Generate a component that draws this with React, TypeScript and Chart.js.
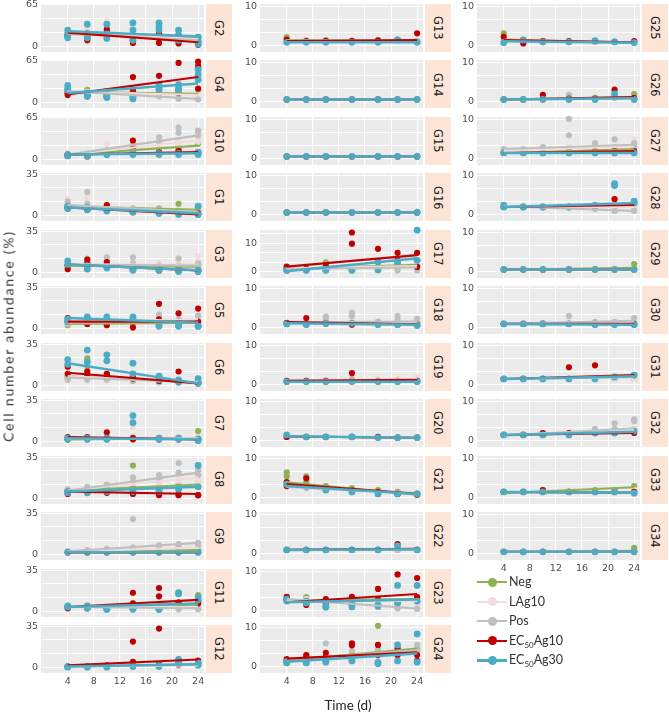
import React, { useEffect, useRef } from 'react';
import { Chart, registerables } from 'chart.js';
Chart.register(...registerables);

// ---------------- DATA ----------------
const days = [4, 7, 10, 14, 18, 21, 24];
const xTickValues = [4, 8, 12, 16, 20, 24];

const col1Panels = ['G2', 'G4', 'G10', 'G1', 'G3', 'G5', 'G6', 'G7', 'G8', 'G9', 'G11', 'G12'];
const col2Panels = ['G13', 'G14', 'G15', 'G16', 'G17', 'G18', 'G19', 'G20', 'G21', 'G22', 'G23', 'G24'];
const col3Panels = ['G25', 'G26', 'G27', 'G28', 'G29', 'G30', 'G31', 'G32', 'G33', 'G34'];

// top tick label of each panel's y axis
const col1TopLabel = [65, 65, 65, 35, 35, 35, 35, 35, 35, 35, 35, 35];
const col2TopLabel = [10, 10, 10, 10, 10, 10, 10, 10, 10, 10, 10, 10];
const col3TopLabel = [10, 10, 10, 10, 10, 10, 10, 10, 10, 10];
// data maximum of panels whose range extends beyond the top label
const extendedMax: Record<string, number> = { G17: 13.8 };

const seriesNames = ['Neg', 'LAg10', 'Pos', 'EC50Ag10', 'EC50Ag30'];
const seriesColors = ['#8DB255', '#F2DCDB', '#BFBFBF', '#C00000', '#4BACC6'];

type Tbl = Record<string, (number | null)[][]>;
type Fit = Record<string, number[]>;

const negPts: Tbl = {
  G2: [[18, 20, 22, 18, 20, 16, 12]],
  G4: [[18, 20, 16, 15, 14, 13, 20]],
  G10: [[8, 8, 10, 12, 15, 18, 45], [6, 6, 8, 10, 12, 15, 25]],
  G1: [[8, 8, 7, 6, 6, 10, 8], [6, 5, 5, 5, 4, 4, 5]],
  G3: [[6, 6, 6, 5, 5, 5, 6]],
  G5: [[3, 4, 4, 3, 3, 4, 3]],
  G6: [[8, 23, 10, 6, 5, 4, 3], [6, 16, 6, 4, 3, 3, 2]],
  G7: [[3, 3, 3, 3, 3, 3, 9], [2, 2, 2, 2, 2, 2, 3]],
  G8: [[7, 8, 8, 28, 12, 12, 14], [5, 6, 6, 10, 9, 10, 10]],
  G9: [[2, 2, 3, 3, 3, 3, 4]],
  G11: [[4, 4, 4, 4, 5, 6, 14], [3, 3, 3, 3, 4, 4, 8]],
  G12: [[1, 1, 1, 1, 2, 2, 3]],
  G13: [[2.2, 1.2, 1.4, 1.2, 1.3, 1.4, 1.2]],
  G14: [[0.6, 0.6, 0.6, 0.6, 0.6, 0.6, 0.6]],
  G15: [[0.6, 0.6, 0.6, 0.6, 0.6, 0.6, 0.6]],
  G16: [[0.6, 0.6, 0.6, 0.6, 0.6, 0.6, 0.6]],
  G17: [[1.5, 0.8, 3.3, 1.5, 2, 2.2, 2.4], [0.8, 0.6, 1, 1, 1.5, 1.8, 2]],
  G18: [[1.2, 1, 1, 1, 1.5, 1, 1]],
  G19: [[1, 1, 1, 1, 1, 1, 1]],
  G20: [[1, 1, 1, 1, 1, 0.8, 0.8]],
  G21: [[6.5, 5.5, 3, 2.5, 2, 1.5, 1], [5.5, 4, 2, 2, 1.5, 1, 0.8]],
  G22: [[1, 1, 1, 1, 1, 1, 1]],
  G23: [[3.5, 3.5, 2, 2.5, 2, 2, 2]],
  G24: [[1.5, 2, 2, 3, 10.5, 4, 4.5], [1.5, 1.5, 1.5, 2.5, 4, 3, 4]],
  G25: [[3.2, 1.5, 1.3, 1, 1, 1, 1]],
  G26: [[0.6, 0.6, 0.8, 1, 1, 1.2, 2]],
  G27: [[1.5, 1.5, 2, 2, 2, 2.5, 3]],
  G28: [[2, 2, 2, 2, 2, 2, 2]],
  G29: [[0.6, 0.6, 0.6, 0.6, 0.6, 0.6, 2]],
  G30: [[1, 1, 1, 1, 1, 1, 1]],
  G31: [[1.5, 1.5, 1.5, 1.5, 1.5, 1.5, 1.5]],
  G32: [[1.5, 1.5, 1.5, 1.5, 2, 2, 3]],
  G33: [[1.5, 1.5, 1.5, 1.5, 2, 2, 3]],
  G34: [[0.5, 0.5, 0.5, 0.5, 0.5, 0.5, 1.5]],
};

const lag10Pts: Tbl = {
  G2: [[22, 28, 40, 20, 28, 22, 15], [16, 18, 22, 14, 15, 10, 8]],
  G4: [[16, 17, 17, 18, 16, 14, 12]],
  G10: [[10, 8, 25, 20, 25, 28, 35], [8, 6, 12, 14, 18, 22, 28]],
  G1: [[14, 16, 8, 6, 5, 5, 4], [10, 12, 6, 5, 4, 4, 3]],
  G3: [[8, 10, 10, 8, 8, 12, 14], [6, 6, 6, 5, 6, 8, 10]],
  G5: [[7, 8, 6, 8, 10, 12, 12], [5, 6, 5, 6, 7, 8, 9]],
  G6: [[10, 8, 8, 6, 5, 4, 3]],
  G7: [[4, 4, 5, 12, 4, 4, 4]],
  G8: [[8, 9, 10, 15, 16, 20, 18], [6, 7, 8, 12, 12, 14, 14]],
  G9: [[3, 3, 4, 6, 6, 6, 7]],
  G11: [[4, 4, 5, 4, 4, 4, 4]],
  G12: [[1, 1, 1, 1, 2, 2, 2]],
  G13: [[1.5, 1.2, 1.2, 1.2, 1.2, 1.2, 1.2]],
  G14: [[0.6, 0.6, 0.6, 0.6, 0.6, 0.6, 0.6]],
  G15: [[0.6, 0.6, 0.6, 0.6, 0.6, 0.6, 0.6]],
  G16: [[0.6, 0.6, 0.6, 0.6, 0.6, 0.6, 0.6]],
  G17: [[1.5, 1, 1.5, 1.5, 2, 2, 2.5]],
  G18: [[1.2, 1.2, 1.5, 2, 1.5, 1.5, 1.8]],
  G19: [[1, 1, 1.2, 1.5, 1.5, 1.5, 2]],
  G20: [[1, 1, 1, 1, 1, 0.8, 0.8]],
  G21: [[3, 3, 2.5, 2, 1.5, 1.2, 1]],
  G22: [[1, 1, 1, 1, 1, 1, 1]],
  G23: [[3, 3, 2, 2.5, 2, 2, 2]],
  G24: [[1.5, 2.5, 2, 3, 3, 3, 4]],
  G25: [[2, 1.5, 1.2, 1, 1, 1, 1]],
  G26: [[0.6, 0.6, 0.8, 1.5, 0.8, 1, 1]],
  G27: [[2, 2, 2.5, 3, 3, 5, 5], [1.5, 1.5, 2, 2.5, 2.5, 3, 4]],
  G28: [[2, 2, 2, 2, 2, 2, 2]],
  G29: [[0.6, 0.6, 0.6, 0.6, 0.6, 0.6, 0.6]],
  G30: [[1, 1, 1.2, 1.5, 1.2, 1.5, 2]],
  G31: [[1.5, 1.5, 1.5, 1.5, 1.5, 1.5, 1.5]],
  G32: [[1.5, 1.5, 1.5, 2, 2, 3, 3]],
  G33: [[1.5, 1.5, 1.5, 1.5, 1.5, 1.5, 2]],
  G34: [[0.5, 0.5, 0.5, 0.5, 0.5, 0.5, 0.5]],
};

const posPts: Tbl = {
  G2: [[20, 22, 25, 18, 20, 14, 10], [15, 15, 15, 12, 12, 8, 5]],
  G4: [[14, 13, 12, 12, 10, 6, 5]],
  G10: [[8, 10, 15, 25, 35, 50, 45], [6, 8, 12, 20, 28, 42, 38]],
  G1: [[12, 20, 8, 6, 5, 4, 4], [8, 10, 6, 4, 4, 3, 2]],
  G3: [[7, 12, 13, 13, 6, 12, 8], [5, 8, 8, 8, 4, 6, 5]],
  G5: [[6, 5, 5, 6, 12, 8, 11], [4, 4, 4, 4, 6, 5, 6]],
  G6: [[8, 6, 7, 6, 5, 4, 3], [5, 5, 5, 4, 3, 3, 2]],
  G7: [[3, 3, 3, 4, 3, 3, 3]],
  G8: [[8, 10, 12, 18, 20, 30, 24], [6, 8, 8, 14, 16, 22, 20]],
  G9: [[3, 4, 5, 30, 8, 9, 10], [2, 3, 3, 6, 6, 7, 8]],
  G11: [[4, 4, 4, 4, 3, 3, 3], [3, 3, 3, 2, 2, 2, 2]],
  G12: [[1, 1, 1, 2, 2, 2, 3]],
  G13: [[1.2, 1.4, 1.2, 1.2, 1.4, 1.6, 1.2]],
  G14: [[0.6, 0.6, 0.6, 0.6, 0.6, 0.6, 0.6]],
  G15: [[0.6, 0.6, 0.6, 0.6, 0.6, 0.6, 0.6]],
  G16: [[0.6, 0.6, 0.6, 0.6, 0.6, 0.6, 0.6]],
  G17: [[1.5, 0.8, 2.5, 1.5, 1.5, 0.4, 0.4], [1, 0.6, 1, 1, 1, 1.2, 1.8]],
  G18: [[1.2, 1.2, 2.9, 3.8, 1.5, 3, 2.3], [1, 1, 2, 3, 1, 2, 1.5]],
  G19: [[1, 1, 1, 1.5, 1, 1, 1]],
  G20: [[1, 1, 1, 1, 1, 0.8, 0.8]],
  G21: [[3, 2.5, 2, 2, 1.5, 1.2, 1.2]],
  G22: [[1, 1, 1, 1, 1, 1, 1]],
  G23: [[3, 2, 2, 2, 1.5, 0.8, 0.5], [2.5, 2.5, 1.5, 1.5, 1, 0.6, 0.5]],
  G24: [[1.5, 3, 6, 4, 4.5, 4, 5.6], [1.5, 2.5, 2, 3.5, 3, 3, 4]],
  G25: [[1.5, 1.2, 1.2, 1, 1.2, 1, 1]],
  G26: [[0.6, 0.6, 0.8, 1.8, 0.5, 1, 1]],
  G27: [[2.5, 2.5, 3, 10.2, 4, 5, 4], [2, 2, 2.5, 6, 3, 3, 3]],
  G28: [[2.5, 2, 2, 2, 1.5, 1, 1]],
  G29: [[0.6, 0.6, 0.6, 0.6, 0.6, 0.6, 0.6]],
  G30: [[1, 1, 1.2, 3, 1.5, 1.5, 2.5]],
  G31: [[1.5, 1.5, 1.5, 1.5, 1.5, 2, 2.5]],
  G32: [[1.5, 1.5, 2, 2, 3, 4.5, 5.5], [1.5, 1.5, 1.5, 2, 2.5, 3, 5]],
  G33: [[1.5, 1.5, 2, 1.5, 1.5, 1.5, 1.5]],
  G34: [[0.5, 0.5, 0.5, 0.5, 0.5, 0.5, 0.5]],
};

const ec10Pts: Tbl = {
  G2: [[20, 10, 27, 6, 6, 5, 15], [18, 14, 22, 10, 14, 18, 8], [16, 20, 18, 16, 20, 12, 3]],
  G4: [[14, 12, 14, 40, 42, 62, 64], [12, 10, 10, 20, 22, 15, 57], [16, 15, 12, 18, 20, 20, 22]],
  G10: [[8, 6, 10, 30, 12, 14, 12], [6, 5, 8, 18, 10, 10, 10]],
  G1: [[8, 6, 9, 4, 3, 3, 2], [6, 5, 6, 3, 2, 2, 1]],
  G3: [[3, 11, 9, 5, 2, 2, 1], [6, 8, 6, 3, 3, 3, 2]],
  G5: [[9, 5, 3, 1, 21, 13, 17], [6, 4, 5, 6, 8, 6, 6]],
  G6: [[16, 12, 10, 8, 6, 12, 3], [10, 9, 8, 6, 4, 4, 2]],
  G7: [[4, 4, 8, 3, 3, 3, 2], [2, 3, 3, 2, 2, 2, 1]],
  G8: [[6, 6, 7, 5, 5, 4, 3], [4, 5, 5, 4, 3, 3, 3]],
  G9: [[2, 2, 2, 2, 2, 2, 2]],
  G11: [[4, 4, 4, 16, 20, 8, 9], [3, 3, 3, 7, 13, 6, 7]],
  G12: [[1, 1, 2, 22, 33, 4, 6], [1, 1, 1, 5, 3, 3, 4]],
  G13: [[1.6, 1.2, 1.3, 1.3, 1.4, 1.5, 3.2]],
  G14: [[0.6, 0.6, 0.6, 0.6, 0.6, 0.6, 0.6]],
  G15: [[0.6, 0.6, 0.6, 0.6, 0.6, 0.6, 0.6]],
  G16: [[0.6, 0.6, 0.6, 0.6, 0.6, 0.6, 0.6]],
  G17: [[1.8, 1, 2, 13.7, 8, 6.6, 6.6], [1.2, 0.8, 1.5, 9.8, 3.5, 4, 1.7]],
  G18: [[1.3, 2.5, 1.2, 0.8, 1, 0.8, 0.8]],
  G19: [[1, 1, 1, 3, 1, 1, 1]],
  G20: [[1, 1, 1, 1, 1, 0.8, 0.8]],
  G21: [[4, 5, 2.5, 2, 1.5, 1, 1], [3, 3, 2, 1.5, 1, 1, 0.8]],
  G22: [[1, 1, 1, 1, 1, 2.5, 1]],
  G23: [[3.6, 2.5, 3, 3.6, 5.6, 9.3, 8.4], [3, 1.5, 2, 2.5, 3, 2, 3.5]],
  G24: [[2, 3, 3.6, 6, 5.6, 4.7, 3], [1.5, 2.5, 2.5, 5.5, 3, 3, 1.5]],
  G25: [[2.3, 0.6, 1.2, 1.2, 1.2, 1, 1.2]],
  G26: [[0.6, 0.6, 1.8, 0.8, 0.8, 3.1, 1]],
  G27: [[1.5, 1.5, 1.5, 2, 2, 2, 2]],
  G28: [[2, 2, 2, 2, 2, 4, 3]],
  G29: [[0.6, 0.6, 0.6, 0.6, 0.6, 0.6, 0.6]],
  G30: [[1, 1, 1, 1, 1, 1, 1]],
  G31: [[1.5, 1.5, 1.5, 4.5, 5, 2, 2.5]],
  G32: [[1.5, 1.5, 2, 2, 2, 2, 2]],
  G33: [[1.5, 1.5, 2, 1.5, 1.5, 1.5, 1.5]],
  G34: [[0.5, 0.5, 0.5, 0.5, 0.5, 0.5, 0.5]],
};

const ec30Pts: Tbl = {
  G2: [[26, 35, 35, 37, 37, 26, 15], [14, 14, 13, 26, 31, 18, 4], [18, 20, 20, 10, 26, 10, 8]],
  G4: [[27, 13, 10, 10, 28, 28, 52], [22, 15, 12, 6, 23, 23, 44], [20, 10, 8, 8, 20, 18, 36]],
  G10: [[8, 8, 10, 12, 10, 10, 12], [6, 6, 8, 8, 8, 8, 8]],
  G1: [[8, 7, 5, 4, 3, 3, 8], [6, 5, 4, 3, 2, 1, 1]],
  G3: [[10, 3, 5, 3, 2, 2, 1], [7, 6, 4, 2, 2, 1, 2]],
  G5: [[8, 10, 10, 10, 4, 3, 2], [6, 8, 8, 8, 2, 2, 2]],
  G6: [[22, 30, 26, 19, 8, 5, 6], [18, 20, 21, 10, 5, 3, 2]],
  G7: [[3, 3, 3, 22, 3, 3, 2], [2, 2, 2, 16, 2, 2, 1]],
  G8: [[6, 7, 8, 8, 8, 10, 28], [5, 5, 6, 6, 6, 8, 10]],
  G9: [[2, 2, 2, 2, 2, 2, 2]],
  G11: [[5, 5, 2, 3, 2, 16, 12], [4, 3, 2, 2, 2, 15, 10]],
  G12: [[1, 1, 1, 2, 2, 7, 4], [0.5, 0.5, 0.5, 1, 1, 5, 2]],
  G13: [[0.9, 0.9, 0.9, 0.9, 0.9, 1.5, 0.9]],
  G14: [[0.6, 0.6, 0.6, 0.6, 0.6, 0.6, 0.6]],
  G15: [[0.6, 0.6, 0.6, 0.6, 0.6, 0.6, 0.6]],
  G16: [[0.6, 0.6, 0.6, 0.6, 0.6, 0.6, 0.6]],
  G17: [[0.6, 0.6, 0.6, 0.6, 0.6, 3.5, 14.5], [0.4, 0.5, 0.5, 0.5, 3.5, 3, 4]],
  G18: [[1, 0.8, 1.2, 1.2, 0.8, 0.8, 0.6]],
  G19: [[0.8, 0.8, 0.8, 0.8, 0.8, 0.8, 0.8]],
  G20: [[1.5, 1, 1, 1, 0.8, 0.8, 0.8]],
  G21: [[3.5, 3, 2, 1.5, 1, 1, 1]],
  G22: [[1, 1, 1, 1, 1, 2, 1]],
  G23: [[3, 2.5, 0.9, 1, 1.5, 6.5, 6.5], [2.5, 2, 1.2, 1.5, 1.2, 2, 2.5]],
  G24: [[1.4, 1.2, 1.5, 1.5, 1.1, 5.6, 8.4], [1, 1, 1.2, 2, 0.8, 1.5, 1.2]],
  G25: [[0.8, 1.5, 1, 1, 1.3, 1, 0.8]],
  G26: [[0.6, 0.6, 0.6, 0.6, 0.6, 2, 0.6]],
  G27: [[1.5, 1.5, 1.5, 1.5, 1.5, 1.5, 1.5]],
  G28: [[2.5, 2, 2, 2, 2.5, 8, 3.5], [2, 2, 2, 2, 2, 7.5, 3]],
  G29: [[0.6, 0.6, 0.6, 0.6, 0.6, 0.6, 0.6]],
  G30: [[1, 1, 1, 1, 0.8, 0.8, 0.8]],
  G31: [[1.5, 1.5, 1.5, 1.5, 1.5, 2, 2.5]],
  G32: [[1.5, 1.5, 1.5, 1.5, 2, 2, 2.5]],
  G33: [[1.5, 1.5, 1.5, 1.5, 1.5, 1.5, 1.2]],
  G34: [[0.5, 0.5, 0.5, 0.5, 0.5, 0.5, 0.5]],
};

// fitted trend lines: [value at day 4, value at day 24]
const negFit: Fit = {
  G2: [20, 13], G4: [17, 14], G10: [8, 22], G1: [8, 5], G3: [6, 5], G5: [4, 5], G6: [8, 3], G7: [2, 3],
  G8: [7, 12], G9: [2, 4], G11: [4, 6], G12: [1, 3],
  G13: [1.5, 1.2], G14: [0.6, 0.6], G15: [0.6, 0.6], G16: [0.6, 0.6], G17: [1, 2.4], G18: [1.3, 1.2],
  G19: [1, 1], G20: [1.1, 0.8], G21: [4, 0.8], G22: [1, 1], G23: [2.6, 3], G24: [1.7, 4.7],
  G25: [1.6, 0.8], G26: [0.5, 1.2], G27: [1.5, 2.5], G28: [2, 2], G29: [0.5, 1], G30: [1, 1],
  G31: [1.5, 2], G32: [1.5, 2.6], G33: [1.2, 2.7], G34: [0.4, 0.8],
};
const lag10Fit: Fit = {
  G2: [22, 12], G4: [17, 12], G10: [8, 30], G1: [9, 3], G3: [7, 7], G5: [6, 8], G6: [8, 3], G7: [3, 3],
  G8: [7, 18], G9: [3, 6], G11: [4, 4], G12: [1, 2],
  G13: [1.3, 1.2], G14: [0.6, 0.6], G15: [0.6, 0.6], G16: [0.6, 0.6], G17: [1.2, 2], G18: [1.4, 1.4],
  G19: [1, 1.5], G20: [1.1, 0.8], G21: [3, 1], G22: [1, 1], G23: [2.6, 2.5], G24: [2, 3.7],
  G25: [1.5, 0.8], G26: [0.6, 1], G27: [2, 3.2], G28: [2, 2], G29: [0.6, 0.6], G30: [1, 1.6],
  G31: [1.5, 2], G32: [1.5, 2.8], G33: [1.5, 1.5], G34: [0.5, 0.5],
};
const posFit: Fit = {
  G2: [21, 10], G4: [18, 6], G10: [8, 38], G1: [9, 3], G3: [7, 6], G5: [5, 6], G6: [7, 3], G7: [3, 2],
  G8: [7, 22], G9: [3, 10], G11: [4, 3], G12: [1, 3],
  G13: [1.2, 1.3], G14: [0.6, 0.6], G15: [0.6, 0.6], G16: [0.6, 0.6], G17: [1, 1.5], G18: [1.4, 1.6],
  G19: [1, 1], G20: [1.1, 0.8], G21: [2.8, 1.2], G22: [1, 1], G23: [3, 0.6], G24: [1.8, 4.2],
  G25: [1.4, 0.9], G26: [0.6, 1], G27: [2.5, 3.6], G28: [2.2, 1], G29: [0.6, 0.6], G30: [1, 1.8],
  G31: [1.5, 2], G32: [1.3, 3.2], G33: [1.5, 1.4], G34: [0.5, 0.5],
};
const ec10Fit: Fit = {
  G2: [22, 7], G4: [13, 40], G10: [8, 12], G1: [7, 1], G3: [7, 2], G5: [6, 6], G6: [11, 2], G7: [4, 2],
  G8: [6, 4], G9: [2, 2], G11: [4, 10], G12: [2, 7],
  G13: [1.2, 1.5], G14: [0.6, 0.6], G15: [0.6, 0.6], G16: [0.6, 0.6], G17: [1.8, 5.8], G18: [1.5, 0.9],
  G19: [1, 1.3], G20: [1.1, 0.8], G21: [3.5, 1], G22: [1, 1.3], G23: [2.2, 4.3], G24: [2.1, 3.7],
  G25: [1.5, 0.9], G26: [0.6, 1.2], G27: [1.5, 2], G28: [2, 2.5], G29: [0.6, 0.6], G30: [1, 1],
  G31: [1.5, 2.5], G32: [1.5, 2], G33: [1.5, 1.3], G34: [0.5, 0.5],
};
const ec30Fit: Fit = {
  G2: [24, 16], G4: [15, 30], G10: [8, 10], G1: [7, 2], G3: [7, 2], G5: [9, 5], G6: [19, 2], G7: [3, 2],
  G8: [6, 10], G9: [2, 2], G11: [4, 7], G12: [1, 3],
  G13: [0.9, 0.9], G14: [0.6, 0.6], G15: [0.6, 0.6], G16: [0.6, 0.6], G17: [0.2, 4.7], G18: [1.2, 0.8],
  G19: [0.8, 0.8], G20: [1.2, 0.8], G21: [3, 1], G22: [1, 1.2], G23: [2.2, 2.9], G24: [1.3, 3.4],
  G25: [1.2, 0.8], G26: [0.6, 0.9], G27: [1.5, 1.5], G28: [2, 3], G29: [0.6, 0.6], G30: [1, 0.8],
  G31: [1.5, 2.2], G32: [1.5, 2.3], G33: [1.5, 1.3], G34: [0.5, 0.5],
};

const seriesPts = [negPts, lag10Pts, posPts, ec10Pts, ec30Pts];
const seriesFit = [negFit, lag10Fit, posFit, ec10Fit, ec30Fit];

// ---------------- LAYOUT ----------------
const PANEL_W = 163;
const PANEL_H = 48;
const ROW_PITCH = 56.45;
const FIRST_TOP = 4;
const COL_LEFT = [40.5, 259.5, 477];
const Y_AXIS_W = 30;
const PAD_TOP = 10;
const PAD_BOTTOM = 10;
const PAD_RIGHT = 8;
const X_AXIS_H = 20;

const bgPlugin = {
  id: 'panelBg',
  beforeDraw(chart: any) {
    const { ctx, chartArea: a } = chart;
    ctx.save();
    ctx.fillStyle = '#EBEBEB';
    ctx.fillRect(a.left, a.top, a.right - a.left, a.bottom - a.top);
    ctx.restore();
  },
};

function Panel(props: { name: string; left: number; top: number; topLabel: number; bottom: boolean }) {
  const { name, left, top, topLabel, bottom } = props;
  const ref = useRef<HTMLCanvasElement>(null);
  const W = Y_AXIS_W + PANEL_W + PAD_RIGHT;
  const H = PAD_TOP + PANEL_H + (bottom ? X_AXIS_H : PAD_BOTTOM);

  useEffect(() => {
    const dataMax = extendedMax[name] ?? topLabel;
    const yMin = -0.158 * dataMax * (topLabel === 10 ? 1 : 0.8);
    const yMax = dataMax * 1.02 + (topLabel === 10 ? 0.5 : 0.3);
    const gridVals = [0, topLabel / 3, (2 * topLabel) / 3, topLabel];
    if (dataMax > topLabel) gridVals.push((4 * topLabel) / 3);
    const last = seriesNames.length - 1;

    const datasets: any[] = [];
    seriesPts.forEach((tbl, s) => {
      (tbl[name] || []).forEach((row) => {
        const pts = row
          .map((v, i) => (v == null ? null : { x: days[i], y: v }))
          .filter((p) => p !== null);
        datasets.push({
          label: seriesNames[s],
          data: pts,
          backgroundColor: seriesColors[s],
          borderWidth: 0,
          pointRadius: s === last ? 3.4 : 3.1,
          showLine: false,
          order: 50 - s,
          clip: false,
        });
      });
    });
    seriesFit.forEach((tbl, s) => {
      const f = tbl[name];
      if (!f) return;
      datasets.push({
        label: seriesNames[s] + ' fit',
        data: [
          { x: days[0], y: f[0] },
          { x: days[days.length - 1], y: f[1] },
        ],
        borderColor: seriesColors[s],
        backgroundColor: seriesColors[s],
        borderWidth: s === last ? 2.5 : 2.1,
        pointRadius: 0,
        showLine: true,
        order: 10 - s,
      });
    });

    const chart = new Chart(ref.current as HTMLCanvasElement, {
      type: 'scatter',
      data: { datasets },
      options: {
        animation: false,
        responsive: false,
        devicePixelRatio: 1,
        layout: {
          padding: { top: PAD_TOP, right: PAD_RIGHT, left: 0, bottom: bottom ? 0 : PAD_BOTTOM },
        },
        plugins: { legend: { display: false }, tooltip: { enabled: false } },
        events: [],
        scales: {
          x: {
            type: 'linear',
            min: -0.1,
            max: 24.9,
            afterBuildTicks: (s: any) => {
              s.ticks = xTickValues.map((v) => ({ value: v }));
            },
            afterFit: (s: any) => {
              s.height = bottom ? X_AXIS_H : 0;
            },
            ticks: {
              display: bottom,
              autoSkip: false,
              maxRotation: 0,
              padding: 3,
              color: '#4D4D4D',
              font: { family: 'DejaVu Sans', size: 9.5 },
            },
            grid: { color: '#FFFFFF', lineWidth: 1.1, drawTicks: false },
            border: { display: false },
          },
          y: {
            type: 'linear',
            min: yMin,
            max: yMax,
            afterBuildTicks: (s: any) => {
              s.ticks = gridVals.map((v) => ({ value: v }));
            },
            afterFit: (s: any) => {
              s.width = Y_AXIS_W;
            },
            ticks: {
              autoSkip: false,
              padding: 3,
              color: '#4D4D4D',
              font: { family: 'DejaVu Sans', size: 9.5 },
              callback: (v: any) => (v === 0 || v === topLabel ? String(v) : ''),
            },
            grid: { color: '#FFFFFF', lineWidth: 1.1, drawTicks: false },
            border: { display: false },
          },
        },
      },
      plugins: [bgPlugin],
    });
    return () => chart.destroy();
  }, [name]);

  return (
    <>
      <canvas
        ref={ref}
        width={W}
        height={H}
        style={{ position: 'absolute', left: left - Y_AXIS_W, top: top - PAD_TOP, width: W, height: H }}
      />
      <div
        style={{
          position: 'absolute',
          left: left + PANEL_W + 2,
          top,
          width: 26,
          height: PANEL_H,
          background: '#FCE4D6',
          display: 'flex',
          alignItems: 'center',
          justifyContent: 'center',
        }}
      >
        <span
          style={{
            writingMode: 'vertical-rl',
            fontFamily: 'DejaVu Sans',
            fontSize: 11.5,
            color: '#1A1A1A',
          }}
        >
          {name}
        </span>
      </div>
    </>
  );
}

function LegendItem(props: { idx: number; top: number }) {
  const { idx, top } = props;
  const color = seriesColors[idx];
  const name = seriesNames[idx];
  const label = name.startsWith('EC50') ? (
    <>
      EC<sub style={{ fontSize: 8, verticalAlign: -3, lineHeight: 0 }}>50</sub>
      {name.slice(4)}
    </>
  ) : (
    name
  );
  return (
    <div style={{ position: 'absolute', left: 477, top, height: 20, width: 120 }}>
      <div style={{ position: 'absolute', left: 0, top: 9, width: 30, height: 2.2, background: color }} />
      <div
        style={{
          position: 'absolute',
          left: 10.5,
          top: 5.5,
          width: 9,
          height: 9,
          borderRadius: '50%',
          background: color,
        }}
      />
      <span
        style={{
          position: 'absolute',
          left: 32,
          top: 2,
          fontFamily: 'Lato, "Open Sans", sans-serif',
          fontSize: 12.5,
          color: '#333333',
          whiteSpace: 'nowrap',
          lineHeight: '16px',
        }}
      >
        {label}
      </span>
    </div>
  );
}

export default function App() {
  const cols = [
    { panels: col1Panels, tops: col1TopLabel },
    { panels: col2Panels, tops: col2TopLabel },
    { panels: col3Panels, tops: col3TopLabel },
  ];
  return (
    <div style={{ position: 'absolute', left: 0, top: 0, width: 669, height: 712, background: '#FFFFFF' }}>
      {cols.map((c, ci) =>
        c.panels.map((name, ri) => (
          <Panel
            key={name}
            name={name}
            left={COL_LEFT[ci]}
            top={FIRST_TOP + ri * ROW_PITCH}
            topLabel={c.tops[ri]}
            bottom={ri === c.panels.length - 1}
          />
        ))
      )}
      {seriesNames.map((_, i) => (
        <LegendItem key={i} idx={i} top={572 + i * 19.6} />
      ))}
      <div
        style={{
          position: 'absolute',
          left: 348,
          top: 705,
          transform: 'translate(-50%, -50%)',
          fontFamily: 'Lato, "Open Sans", sans-serif',
          fontSize: 13.5,
          color: '#222222',
          whiteSpace: 'nowrap',
        }}
      >
        Time (d)
      </div>
      <div
        style={{
          position: 'absolute',
          left: 8,
          top: 336,
          transform: 'translate(-50%, -50%) rotate(-90deg)',
          fontFamily: 'Lato, "Open Sans", sans-serif',
          fontWeight: 400,
          fontSize: 14,
          letterSpacing: 1.8,
          color: '#333333',
          whiteSpace: 'nowrap',
        }}
      >
        Cell number abundance (%)
      </div>
    </div>
  );
}
